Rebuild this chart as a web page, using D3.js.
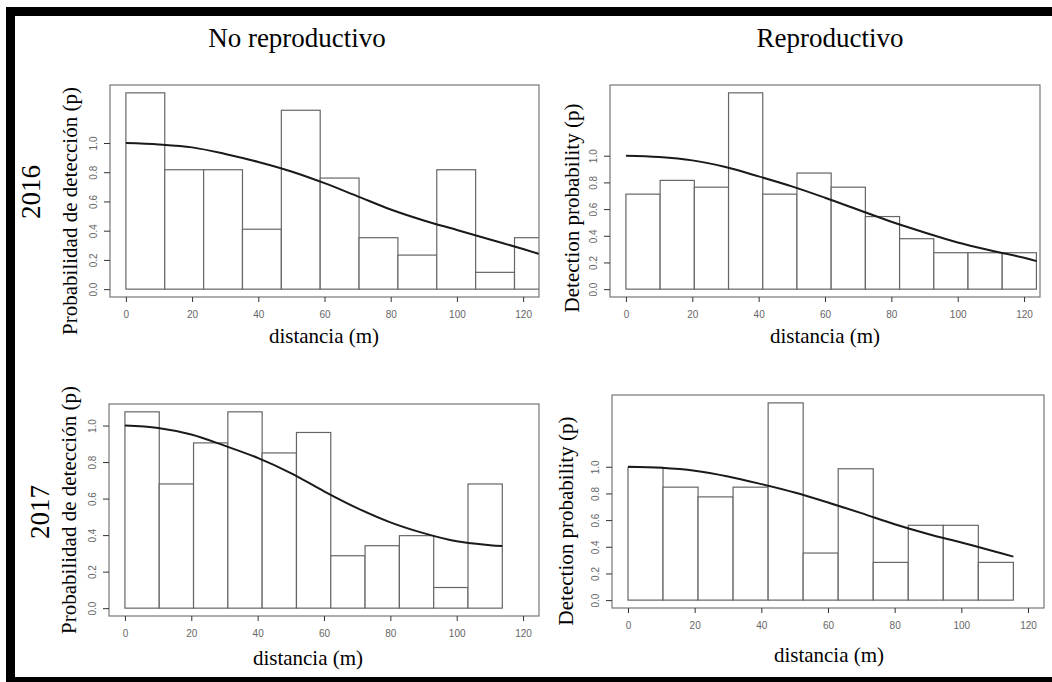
<!DOCTYPE html>
<html>
<head>
<meta charset="utf-8">
<script src="https://cdn.jsdelivr.net/npm/d3@7"></script>
<style>
  body { margin: 0; background: #fff; }
  svg { display: block; }
  .serif { font-family: "Liberation Serif", "Times New Roman", serif; fill: #000; }
  .axis text { font-family: "Liberation Sans", Arial, sans-serif; font-size: 10px; fill: #666; }
  .axis line { stroke: #333; }
  .axis path { stroke: #666; }
</style>
</head>
<body>
<svg width="1052" height="682"></svg>
<script>
// ---- data ----
var groups = ["No reproductivo", "Reproductivo"];
var years = ["2016", "2017"];
var yLabels = ["Probabilidad de detección (p)", "Detection probability (p)"];
var xLabel = "distancia (m)";
var xTicks = [0, 20, 40, 60, 80, 100, 120];
var yTicks = [0, 0.2, 0.4, 0.6, 0.8, 1.0];

// bin width (m) and scaled histogram heights, one per panel
var binWidth16No = 11.74;
var bars16No = [1.343, 0.817, 0.817, 0.41, 1.224, 0.76, 0.352, 0.233, 0.817, 0.115, 0.352, 0.352];
var binWidth16Rep = 10.31;
var bars16Rep = [0.712, 0.815, 0.764, 1.471, 0.712, 0.870, 0.764, 0.544, 0.378, 0.273, 0.273, 0.273];
var binWidth17No = 10.34;
var bars17No = [1.075, 0.680, 0.905, 1.075, 0.850, 0.962, 0.287, 0.342, 0.397, 0.113, 0.680];
var binWidth17Rep = 10.51;
var bars17Rep = [0.995, 0.847, 0.774, 0.847, 1.479, 0.353, 0.985, 0.283, 0.561, 0.561, 0.283];

// fitted detection curves, read at every 10 m
var curveX16No = [0, 10, 20, 30, 40, 50, 60, 70, 80, 90, 100, 110, 120, 125];
var curveP16No = [1.0, 0.99, 0.97, 0.925, 0.87, 0.805, 0.725, 0.635, 0.545, 0.47, 0.405, 0.34, 0.275, 0.24];
var curveX16Rep = [0, 10, 20, 30, 40, 50, 60, 70, 80, 90, 100, 110, 120, 123.8];
var curveP16Rep = [1.0, 0.99, 0.965, 0.915, 0.845, 0.77, 0.685, 0.595, 0.505, 0.425, 0.35, 0.29, 0.235, 0.21];
var curveX17No = [0, 10, 20, 30, 40, 50, 60, 70, 80, 90, 100, 110, 113.7];
var curveP17No = [1.0, 0.987, 0.951, 0.89, 0.823, 0.74, 0.64, 0.548, 0.47, 0.411, 0.366, 0.345, 0.34];
var curveX17Rep = [0, 10, 20, 30, 40, 50, 60, 70, 80, 90, 100, 110, 115.6];
var curveP17Rep = [1.0, 0.992, 0.97, 0.927, 0.87, 0.807, 0.732, 0.652, 0.569, 0.496, 0.432, 0.365, 0.326];

// ---- layout ----
var panels = [
  {bw: binWidth16No, bars: bars16No, cx: curveX16No, cy: curveP16No, label: yLabels[0],
   box: [110, 85, 539, 297], yl: [77, 211], xl: [324, 343]},
  {bw: binWidth16Rep, bars: bars16Rep, cx: curveX16Rep, cy: curveP16Rep, label: yLabels[1],
   box: [610, 85, 1040, 297], yl: [579, 208], xl: [825, 343]},
  {bw: binWidth17No, bars: bars17No, cx: curveX17No, cy: curveP17No, label: yLabels[0],
   box: [109, 404, 539, 616], yl: [76, 510], xl: [308, 665]},
  {bw: binWidth17Rep, bars: bars17Rep, cx: curveX17Rep, cy: curveP17Rep, label: yLabels[1],
   box: [612, 395, 1044, 608], yl: [573, 521], xl: [829, 662]}
];

var svg = d3.select("svg");
svg.append("rect").attr("width", 1052).attr("height", 682).attr("fill", "#fff");

// outer black frame (top, left, bottom)
svg.append("rect").attr("x", 6).attr("y", 7).attr("width", 1046).attr("height", 9).attr("fill", "#000");
svg.append("rect").attr("x", 6).attr("y", 7).attr("width", 9).attr("height", 675).attr("fill", "#000");
svg.append("rect").attr("x", 6).attr("y", 677).attr("width", 1046).attr("height", 5).attr("fill", "#000");

// column and row titles
svg.append("text").attr("class", "serif").attr("x", 297).attr("y", 47)
  .attr("text-anchor", "middle").style("font-size", "27px").text(groups[0]);
svg.append("text").attr("class", "serif").attr("x", 830).attr("y", 47)
  .attr("text-anchor", "middle").style("font-size", "27px").text(groups[1]);
svg.append("text").attr("class", "serif").attr("transform", "translate(40,192) rotate(-90)")
  .attr("text-anchor", "middle").style("font-size", "27px").text(years[0]);
svg.append("text").attr("class", "serif").attr("transform", "translate(49,512) rotate(-90)")
  .attr("text-anchor", "middle").style("font-size", "27px").text(years[1]);

panels.forEach(function(p, i) {
  var b = p.box;
  var ymax = d3.max(p.bars);
  var x = d3.scaleLinear().domain([-4.8, 124.8]).range([b[0], b[2]]);
  var y = d3.scaleLinear().domain([-0.04 * ymax, 1.04 * ymax]).range([b[3], b[1]]);

  var g = svg.append("g");
  g.append("clipPath").attr("id", "clip" + i)
    .append("rect").attr("x", b[0]).attr("y", b[1]).attr("width", b[2] - b[0]).attr("height", b[3] - b[1]);

  var plot = g.append("g").attr("clip-path", "url(#clip" + i + ")");

  plot.selectAll("rect.bar")
    .data(p.bars)
    .enter().append("rect")
      .attr("class", "bar")
      .attr("x", function(d, j) { return x(j * p.bw); })
      .attr("width", function(d, j) { return x((j + 1) * p.bw) - x(j * p.bw); })
      .attr("y", function(d) { return y(d); })
      .attr("height", function(d) { return y(0) - y(d); })
      .attr("fill", "#fff")
      .attr("stroke", "#666")
      .attr("stroke-width", 1.2);

  var line = d3.line()
    .curve(d3.curveCatmullRom.alpha(0.5))
    .x(function(d) { return x(d[0]); })
    .y(function(d) { return y(d[1]); });

  plot.append("path")
    .datum(d3.zip(p.cx, p.cy))
    .attr("d", line)
    .attr("fill", "none")
    .attr("stroke", "#1a1a1a")
    .attr("stroke-width", 2);

  // box
  g.append("rect")
    .attr("x", b[0]).attr("y", b[1]).attr("width", b[2] - b[0]).attr("height", b[3] - b[1])
    .attr("fill", "none").attr("stroke", "#777").attr("stroke-width", 1.2);

  // axes
  var xa = g.append("g")
    .attr("class", "axis")
    .attr("transform", "translate(0," + b[3] + ")")
    .call(d3.axisBottom(x).tickValues(xTicks).tickFormat(d3.format("d")).tickSize(5).tickSizeOuter(0));
  xa.select(".domain").remove();
  xa.selectAll("text").attr("dy", null).attr("y", 21);

  var ya = g.append("g")
    .attr("class", "axis")
    .attr("transform", "translate(" + b[0] + ",0)")
    .call(d3.axisLeft(y).tickValues(yTicks).tickFormat(d3.format(".1f")).tickSize(6).tickSizeOuter(0));
  ya.select(".domain").remove();
  ya.selectAll("text")
    .attr("transform", "rotate(-90)")
    .attr("x", 0).attr("y", -13).attr("dy", null)
    .style("text-anchor", "middle");

  // axis titles
  g.append("text").attr("class", "serif")
    .attr("x", p.xl[0]).attr("y", p.xl[1])
    .attr("text-anchor", "middle").style("font-size", "21px")
    .text(xLabel);
  g.append("text").attr("class", "serif")
    .attr("transform", "translate(" + p.yl[0] + "," + p.yl[1] + ") rotate(-90)")
    .attr("text-anchor", "middle").style("font-size", "21px")
    .text(p.label);
});
</script>
</body>
</html>
